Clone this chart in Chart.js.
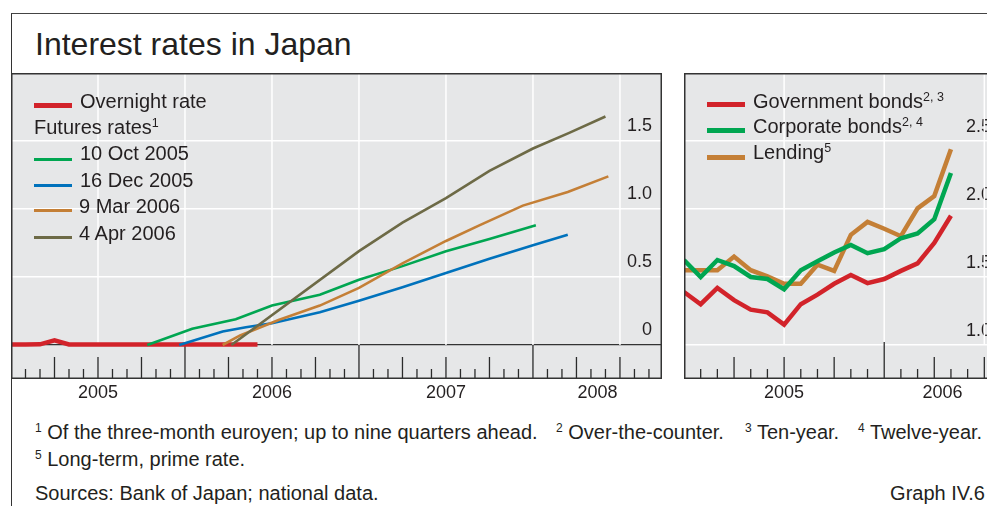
<!DOCTYPE html>
<html>
<head>
<meta charset="utf-8">
<script src="https://cdn.jsdelivr.net/npm/chart.js@4/dist/chart.umd.min.js"></script>
<style>
  html, body { margin: 0; padding: 0; background: #fff; }
  body { width: 987px; height: 506px; overflow: hidden; position: relative;
         font-family: "Liberation Sans", Arial, sans-serif; color: #231f20; }
  .abs { position: absolute; white-space: nowrap; }
  #frame { left: 11px; top: 13px; width: 1100px; height: 600px;
           border-left: 1.5px solid #333; border-top: 1.5px solid #444; }
  #title { left: 35px; top: 28px; font-size: 32px; line-height: 32px; }
  .lg { font-size: 20px; line-height: 20px; }
  .sw { position: absolute; }
  .fn { font-size: 20px; line-height: 20px; }
  sup { font-size: 12.5px; line-height: 0; vertical-align: 0; position: relative; top: -0.55em; }
  .fn sup { font-size: 12px; }
  canvas { position: absolute; }
</style>
</head>
<body>
<div id="frame" class="abs"></div>
<div id="title" class="abs">Interest rates in Japan</div>

<canvas id="left" width="651" height="336" style="left:11px;top:73px"></canvas>
<canvas id="right" width="317" height="336" style="left:684px;top:73px"></canvas>

<!-- left legend -->
<div class="sw" style="left:34px;top:103px;width:38px;height:5px;background:#d2232a"></div>
<div class="abs lg" style="left:80px;top:91px">Overnight rate</div>
<div class="abs lg" style="left:34px;top:117px">Futures rates<sup>1</sup></div>
<div class="sw" style="left:34px;top:158px;width:38px;height:3px;background:#00a651"></div>
<div class="abs lg" style="left:80px;top:143px">10 Oct 2005</div>
<div class="sw" style="left:34px;top:184px;width:38px;height:3px;background:#0072bc"></div>
<div class="abs lg" style="left:80px;top:170px">16 Dec 2005</div>
<div class="sw" style="left:34px;top:209px;width:38px;height:3px;background:#c47f36"></div>
<div class="abs lg" style="left:79px;top:196px">9 Mar 2006</div>
<div class="sw" style="left:34px;top:236px;width:38px;height:3px;background:#6d6a46"></div>
<div class="abs lg" style="left:79px;top:223px">4 Apr 2006</div>

<!-- right legend -->
<div class="sw" style="left:707px;top:102px;width:38px;height:5px;background:#d2232a"></div>
<div class="abs lg" style="left:753px;top:91px">Government bonds<sup>2, 3</sup></div>
<div class="sw" style="left:707px;top:128px;width:38px;height:5px;background:#00a651"></div>
<div class="abs lg" style="left:753px;top:116px">Corporate bonds<sup>2, 4</sup></div>
<div class="sw" style="left:707px;top:155px;width:38px;height:5px;background:#c47f36"></div>
<div class="abs lg" style="left:753px;top:142px">Lending<sup>5</sup></div>

<!-- footnotes -->
<div class="abs fn" style="left:35px;top:422px"><sup>1</sup> Of the three-month euroyen; up to nine quarters ahead.</div>
<div class="abs fn" style="left:556px;top:422px"><sup>2</sup> Over-the-counter.</div>
<div class="abs fn" style="left:745px;top:422px"><sup>3</sup> Ten-year.</div>
<div class="abs fn" style="left:858px;top:422px"><sup>4</sup> Twelve-year.</div>
<div class="abs fn" style="left:35px;top:449px"><sup>5</sup> Long-term, prime rate.</div>
<div class="abs fn" style="left:35px;top:483px">Sources: Bank of Japan; national data.</div>
<div class="abs fn" style="right:2px;top:483px">Graph IV.6</div>

<script>
// months counted from January 2005 (0 = 1 Jan 2005)
var leftYears = ['2005', '2006', '2007', '2008'];
var leftYTicks = [0, 0.5, 1.0, 1.5];

var overnightX = [0, 1, 2, 3, 4, 5, 6, 7, 8, 9, 10, 11, 12, 13, 14, 15, 16, 17];
var overnightY = [0.004, 0.004, 0.005, 0.035, 0.004, 0.004, 0.004, 0.004, 0.004, 0.004, 0.004, 0.004, 0.004, 0.004, 0.004, 0.004, 0.004, 0.004];

var oct05X = [9.4, 12.5, 15.5, 18, 21.3, 24, 27, 30, 33, 36.2];
var oct05Y = [0, 0.12, 0.19, 0.29, 0.37, 0.48, 0.58, 0.69, 0.78, 0.88];

var dec05X = [11.6, 14.6, 16.2, 18, 21.3, 24, 27, 30, 33, 36, 38.4];
var dec05Y = [0, 0.10, 0.13, 0.16, 0.24, 0.325, 0.425, 0.53, 0.635, 0.733, 0.81];

var mar06X = [14.6, 15.8, 18.5, 21.3, 24, 27, 30, 32.3, 35.3, 38.4, 41.2];
var mar06Y = [0, 0.07, 0.185, 0.29, 0.42, 0.6, 0.765, 0.88, 1.025, 1.125, 1.24];

var apr06X = [15.2, 24, 27, 30, 33, 36, 38.5, 41];
var apr06Y = [0, 0.69, 0.9, 1.08, 1.28, 1.445, 1.56, 1.68];

var rightYears = ['2005', '2006'];
var rightYTicks = [1.0, 1.5, 2.0, 2.5];
var rightMonths = [0, 1, 2, 3, 4, 5, 6, 7, 8, 9, 10, 11, 12, 13, 14, 15, 16];
var govBonds = [1.39, 1.30, 1.42, 1.33, 1.26, 1.24, 1.15, 1.30, 1.37, 1.45, 1.515, 1.455, 1.485, 1.545, 1.60, 1.75, 1.95];
var corpBonds = [1.625, 1.50, 1.625, 1.58, 1.50, 1.485, 1.41, 1.55, 1.615, 1.68, 1.735, 1.675, 1.705, 1.785, 1.82, 1.925, 2.265];
var lending = [1.55, 1.55, 1.55, 1.65, 1.55, 1.505, 1.45, 1.45, 1.59, 1.545, 1.81, 1.905, 1.855, 1.80, 2.005, 2.095, 2.44];

var FONT = '"Liberation Sans", Arial, sans-serif';
var INK = '#231f20';

function pts(xs, ys) {
	return xs.map(function (x, i) { return {x: x, y: ys[i]}; });
}

function line(data, color, width) {
	return {data: data, borderColor: color, borderWidth: width, pointRadius: 0, tension: 0, fill: false};
}

// centre of each calendar year's visible part
function yearCentres(years, min, max) {
	return years.map(function (y, i) {
		var a = Math.max(min, i * 12), b = Math.min(max, i * 12 + 12);
		return (a + b) / 2;
	});
}

var panelDecor = {
	id: 'panelDecor',
	beforeDraw: function (chart) {
		var a = chart.chartArea, ctx = chart.ctx;
		ctx.save();
		ctx.fillStyle = '#e6e7e8';
		ctx.fillRect(a.left, a.top, a.width, a.height);
		ctx.restore();
	},
	beforeDatasetsDraw: function (chart, args, opts) {
		var a = chart.chartArea, ctx = chart.ctx, x = chart.scales.x, y = chart.scales.y;
		var base = y.getPixelForValue(opts.base);
		ctx.save();
		ctx.strokeStyle = '#fff';
		ctx.lineWidth = 1.5;
		for (var m = 6; m < x.max; m += 6) {
			var px = x.getPixelForValue(m);
			ctx.beginPath(); ctx.moveTo(px, a.top); ctx.lineTo(px, base); ctx.stroke();
		}
		ctx.strokeStyle = '#2b2b2b';
		ctx.lineWidth = 1.3;
		for (var k = 1; k < x.max; k++) {
			var len = k % 12 === 0 ? opts.yearTick : (k % 3 === 0 ? 22 : 10);
			var p = x.getPixelForValue(k);
			ctx.beginPath(); ctx.moveTo(p, a.bottom); ctx.lineTo(p, a.bottom - len); ctx.stroke();
		}
		ctx.restore();
	},
	afterDraw: function (chart) {
		var a = chart.chartArea, ctx = chart.ctx;
		ctx.save();
		ctx.strokeStyle = '#333';
		ctx.lineWidth = 1.5;
		ctx.strokeRect(a.left + 0.75, a.top + 0.75, a.width - 1.5, a.height - 1.5);
		ctx.restore();
	}
};

function makeOptions(xMax, yMin, yMax, years, yTicks, base, yearTick, labelOffset) {
	var centres = yearCentres(years, 0, xMax);
	return {
		responsive: false,
		animation: false,
		events: [],
		layout: {padding: 0},
		plugins: {
			legend: {display: false},
			tooltip: {enabled: false},
			panelDecor: {base: base, yearTick: yearTick}
		},
		scales: {
			x: {
				type: 'linear', min: 0, max: xMax,
				afterBuildTicks: function (s) { s.ticks = centres.map(function (v) { return {value: v}; }); },
				afterFit: function (s) { s.height = 30; s.paddingLeft = 0; s.paddingRight = 0; },
				ticks: {
					autoSkip: false, maxRotation: 0, padding: 3, color: INK,
					font: {family: FONT, size: 18},
					callback: function (v, i) { return years[i]; }
				},
				grid: {display: false, drawTicks: false},
				border: {display: false}
			},
			y: {
				position: 'right', min: yMin, max: yMax,
				afterBuildTicks: function (s) { s.ticks = yTicks.map(function (v) { return {value: v}; }); },
				afterFit: function (s) { s.width = 0; s.paddingTop = 0; s.paddingBottom = 0; },
				ticks: {
					mirror: true, padding: -10, labelOffset: labelOffset, color: INK,
					font: {family: FONT, size: 18},
					callback: function (v) { return v === 0 ? '0' : v.toFixed(1); }
				},
				grid: {
					drawTicks: false,
					color: function (c) { return c.tick && c.tick.value === 0 ? '#333' : '#fff'; },
					lineWidth: function (c) { return c.tick && c.tick.value === 0 ? 1.3 : 1.5; }
				},
				border: {display: false}
			}
		}
	};
}

new Chart(document.getElementById('left'), {
	type: 'line',
	data: {
		datasets: [
			line(pts(apr06X, apr06Y), '#6d6a46', 2.6),
			line(pts(mar06X, mar06Y), '#c47f36', 2.6),
			line(pts(dec05X, dec05Y), '#0072bc', 2.6),
			line(pts(oct05X, oct05Y), '#00a651', 2.6),
			line(pts(overnightX, overnightY), '#d2232a', 4.5)
		]
	},
	options: makeOptions(44.9, -0.25, 2.0, leftYears, leftYTicks, 0, 34, -15),
	plugins: [panelDecor]
});

new Chart(document.getElementById('right'), {
	type: 'line',
	data: {
		datasets: [
			line(pts(rightMonths, corpBonds), '#00a651', 4.5),
			line(pts(rightMonths, lending), '#c47f36', 4.5),
			line(pts(rightMonths, govBonds), '#d2232a', 4.5)
		]
	},
	options: makeOptions(19, 0.75, 3.0, rightYears, rightYTicks, 1.0, 37, -14),
	plugins: [panelDecor]
});
</script>
</body>
</html>
